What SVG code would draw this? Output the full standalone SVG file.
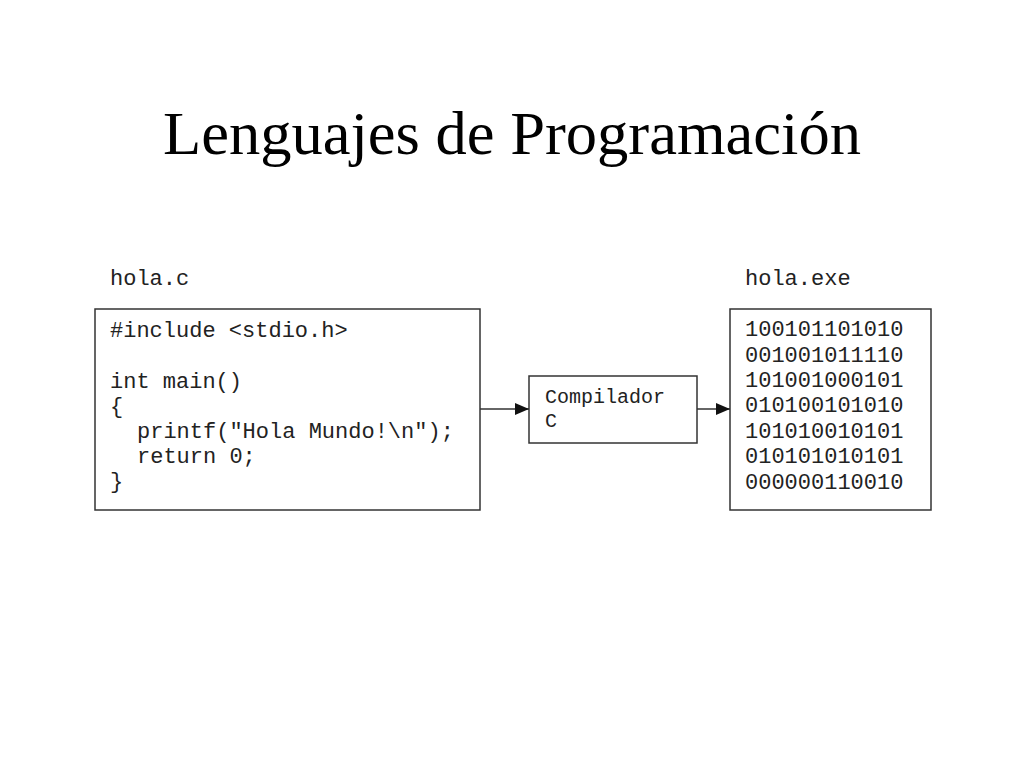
<svg xmlns="http://www.w3.org/2000/svg" width="1024" height="768" viewBox="0 0 1024 768">
<defs>
<style>
.mono{font-family:"Liberation Mono","DejaVu Sans Mono",monospace;font-size:22px;fill:#222;}
.small{font-size:20px;}
.box{fill:#fff;stroke:#333;stroke-width:1.5;}
.conn{stroke:#333;stroke-width:1.5;fill:none;}
.title{font-family:"Liberation Serif","Times New Roman",serif;font-size:61px;fill:#000;}
</style>
<marker id="arr" markerWidth="14" markerHeight="12" refX="14" refY="6" orient="auto" markerUnits="userSpaceOnUse">
<path d="M0,0 L14,6 L0,12 Z" fill="#111"/>
</marker>
</defs>
<rect width="1024" height="768" fill="#fff"/>
<text class="title" x="512" y="154" text-anchor="middle" textLength="698" lengthAdjust="spacingAndGlyphs">Lenguajes de Programación</text>
<g id="source">
<text class="mono" x="110" y="285">hola.c</text>
<rect class="box" x="95" y="309" width="385" height="201"/>
<text class="mono" x="110" y="337">#include &lt;stdio.h&gt;</text>
<text class="mono" x="110" y="388">int main()</text>
<text class="mono" x="110" y="413">{</text>
<text class="mono" x="137" y="438" xml:space="preserve">printf("Hola Mundo!\n");</text>
<text class="mono" x="137" y="463">return 0;</text>
<text class="mono" x="110" y="488">}</text>
</g>
<g id="compiler">
<rect class="box" x="529" y="376" width="168" height="67"/>
<text class="mono small" x="545" y="403">Compilador</text>
<text class="mono small" x="545" y="427">C</text>
</g>
<g id="exe">
<text class="mono" x="745" y="285">hola.exe</text>
<rect class="box" x="730" y="309" width="201" height="201"/>
<text class="mono" x="745" y="336">100101101010</text>
<text class="mono" x="745" y="362">001001011110</text>
<text class="mono" x="745" y="387">101001000101</text>
<text class="mono" x="745" y="412">010100101010</text>
<text class="mono" x="745" y="438">101010010101</text>
<text class="mono" x="745" y="463">010101010101</text>
<text class="mono" x="745" y="489">000000110010</text>
</g>
<g id="connectors">
<line class="conn" x1="480" y1="409" x2="529" y2="409" marker-end="url(#arr)"/>
<line class="conn" x1="697" y1="409" x2="730" y2="409" marker-end="url(#arr)"/>
</g>
</svg>
